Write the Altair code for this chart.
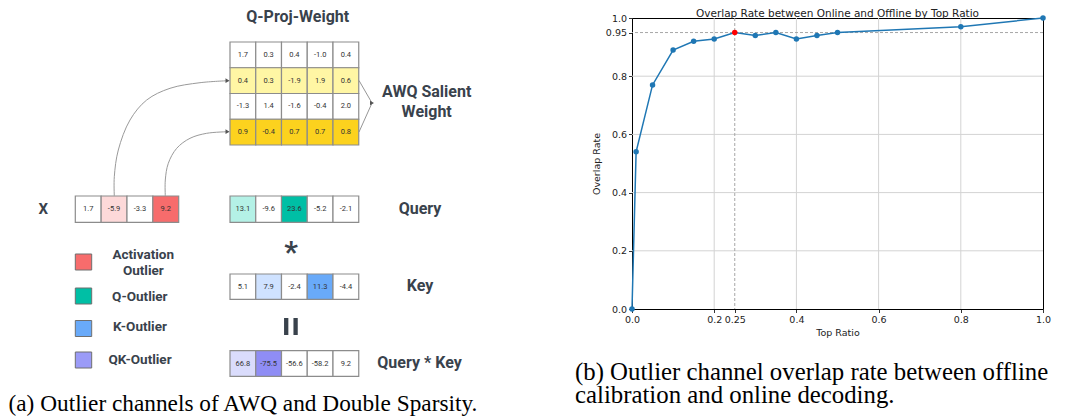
import altair as alt
import pandas as pd

# ---------------- data ----------------
weight_vals = [
    [1.7, 0.3, 0.4, -1.0, 0.4],
    [0.4, 0.3, -1.9, 1.9, 0.6],
    [-1.3, 1.4, -1.6, -0.4, 2.0],
    [0.9, -0.4, 0.7, 0.7, 0.8],
]
weight_row_kind = ["none", "salient_light", "none", "salient"]
x_vals = [1.7, -5.9, -3.3, 9.2]
x_kind = ["none", "act_light", "none", "act"]
query_vals = [13.1, -9.6, 23.6, -5.2, -2.1]
query_kind = ["q_light", "none", "q", "none", "none"]
key_vals = [5.1, 7.9, -2.4, 11.3, -4.4]
key_kind = ["none", "k_light", "none", "k", "none"]
qk_vals = [66.8, -75.5, -56.6, -58.2, 9.2]
qk_kind = ["qk_light", "qk", "none", "none", "none"]

legend_kinds = ["act", "q", "k", "qk_legend"]
legend_labels = ["Activation", "Outlier", "Q-Outlier", "K-Outlier", "QK-Outlier"]
diagram_labels = ["Q-Proj-Weight", "AWQ Salient", "Weight", "X", "Query", "*", "Key", "Query * Key"]
caption_a = "(a) Outlier channels of AWQ and Double Sparsity."
caption_b = ["(b) Outlier channel overlap rate between offline", "calibration and online decoding."]

top_ratio = [0.0, 0.01, 0.05, 0.1, 0.15, 0.2, 0.25, 0.3, 0.35, 0.4, 0.45, 0.5, 0.8, 1.0]
overlap_rate = [0.0, 0.54, 0.77, 0.89, 0.92, 0.928, 0.95, 0.94, 0.95, 0.928, 0.94, 0.95, 0.97, 1.0]
highlight_ratio = 0.25
threshold_rate = 0.95
chart_title = "Overlap Rate between Online and Offline by Top Ratio"
x_ticks = [0.0, 0.2, 0.25, 0.4, 0.6, 0.8, 1.0]
y_ticks = [0.0, 0.2, 0.4, 0.6, 0.8, 0.95, 1.0]
grid_vals = [0.2, 0.4, 0.6, 0.8]

# ---------------- styles / layout ----------------
PALETTE = {
    "none": "#ffffff",
    "salient_light": "#fff6a4",
    "salient": "#fcd21e",
    "act_light": "#fdd9d9",
    "act": "#f76c6c",
    "q_light": "#b4f1e6",
    "q": "#00bfa5",
    "k_light": "#cfe2ff",
    "k": "#69aaf9",
    "qk_light": "#dadcfc",
    "qk": "#8f8df5",
    "qk_legend": "#9b9bf7",
}
INK = "#39424c"
PX0, PY0, W, H = 632, 18, 411, 291
PAD = {"left": PX0 - 8, "top": PY0 - 8, "right": 1059 - PX0 - W, "bottom": 108}

DX = alt.Scale(domain=[0, 1067], range=[-PX0, 1067 - PX0], nice=False, zero=False)
DY = alt.Scale(domain=[0, 419], range=[-PY0, 419 - PY0], nice=False, zero=False)
CX = alt.Scale(domain=[0, 1], nice=False, zero=False)
CY = alt.Scale(domain=[0, 1], nice=False, zero=False)


def dx(f):
    return alt.X(f, type="quantitative", scale=DX, axis=None)


def dy(f):
    return alt.Y(f, type="quantitative", scale=DY, axis=None)


# cells
cell_rows = []


def add_cells(vals, kinds, x0, y0, w, h):
    for i, (v, k) in enumerate(zip(vals, kinds)):
        cell_rows.append(dict(x=x0 + i * w, x2=x0 + (i + 1) * w, y=y0, y2=y0 + h,
                              cx=x0 + (i + 0.5) * w, cy=y0 + h / 2,
                              fill=PALETTE[k], label=f"{v:.1f}"))


CW = 25.75
for r, (vals, kind) in enumerate(zip(weight_vals, weight_row_kind)):
    add_cells(vals, [kind] * len(vals), 230, 42 + r * CW, CW, CW)
add_cells(x_vals, x_kind, 75.3, 196, 25.85, 26.3)
add_cells(query_vals, query_kind, 230, 196, CW, 26.3)
add_cells(key_vals, key_kind, 230, 274, CW, 25.3)
add_cells(qk_vals, qk_kind, 230, 350.7, CW, 25.6)
cells_df = pd.DataFrame(cell_rows)

cell_rect = alt.Chart(cells_df).mark_rect(stroke="#8c8c8c", strokeWidth=1.2).encode(
    x=dx("x"), x2="x2", y=dy("y"), y2="y2", fill=alt.Fill("fill:N", scale=None))
cell_text = alt.Chart(cells_df).mark_text(font="Roboto", fontSize=7.5, color="#333333").encode(
    x=dx("cx"), y=dy("cy"), text="label:N")

# legend squares
leg_y = [262, 296, 328.5, 360]
leg_df = pd.DataFrame(dict(x=[75.3] * 4, x2=[91.7] * 4,
                           y=[c - 8 for c in leg_y], y2=[c + 8 for c in leg_y],
                           fill=[PALETTE[k] for k in legend_kinds]))
leg_rect = alt.Chart(leg_df).mark_rect(stroke="#6f6f6f", strokeWidth=1).encode(
    x=dx("x"), x2="x2", y=dy("y"), y2="y2", fill=alt.Fill("fill:N", scale=None))
leg_pos = [(143.2, 255.3), (143.3, 271), (139.8, 296.7), (140, 326.5), (140, 360)]
leg_text_df = pd.DataFrame(dict(t=legend_labels, x=[p[0] for p in leg_pos], y=[p[1] for p in leg_pos]))
leg_text = alt.Chart(leg_text_df).mark_text(font="Roboto", fontWeight="bold", fontSize=13.5, color=INK).encode(
    x=dx("x"), y=dy("y"), text="t:N")

# diagram labels
lab_pos = [(297.7, 16.5), (426.7, 92), (426.7, 111.7), (43.3, 209), (420, 209), (291, 253), (420, 286), (419.5, 362.7)]
lab_size = [16, 16, 16, 15, 16, 30, 16, 16]
lab_df = pd.DataFrame(dict(t=diagram_labels, x=[p[0] for p in lab_pos], y=[p[1] for p in lab_pos], s=lab_size))
lab_text = alt.Chart(lab_df).mark_text(font="Roboto", fontWeight="bold", color=INK).encode(
    x=dx("x"), y=dy("y"), text="t:N", size=alt.Size("s:Q", scale=None))

# "=" drawn as two thick bars
eq_df = pd.DataFrame(dict(x=[286.2, 295.6], y=[318, 318], y2=[335, 335]))
eq_bars = alt.Chart(eq_df).mark_rule(color=INK, strokeWidth=4.3).encode(
    x=dx("x"), y=dy("y"), y2="y2")

# curved arrows from X to weight rows
curve_pts = {
    "a": [(114.3, 196), (114.3, 176.7), (118.3, 150), (130, 120), (146.7, 100), (170, 88.3), (200, 82.7), (228.3, 80.7)],
    "b": [(165.3, 196), (165.3, 180), (168.3, 163.3), (176.7, 148.3), (190, 138.3), (206.7, 133.3), (228.3, 131.7)],
}
crow = []
for cid, pts in curve_pts.items():
    for i, (px, py) in enumerate(pts):
        crow.append(dict(id=cid, o=i, x=px, y=py))
curve_df = pd.DataFrame(crow)
curves = alt.Chart(curve_df).mark_line(interpolate="catmull-rom", color="#9a9a9a", strokeWidth=1).encode(
    x=dx("x"), y=dy("y"), detail="id:N", order="o:Q")

# AWQ arrows
awq_df = pd.DataFrame(dict(x=[359, 359], y=[80.5, 132], x2=[372, 372], y2=[103, 103]))
awq_lines = alt.Chart(awq_df).mark_rule(color="#8a8a8a", strokeWidth=0.9).encode(
    x=dx("x"), y=dy("y"), x2="x2", y2="y2")
head_df = pd.DataFrame(dict(x=[227.5, 227.5, 372], y=[80.7, 131.7, 103]))
heads = alt.Chart(head_df).mark_point(shape="triangle-right", filled=True, size=22, color="#555555", opacity=1).encode(
    x=dx("x"), y=dy("y"))

# captions
cap_a_df = pd.DataFrame(dict(t=[caption_a], x=[8.5], y=[411]))
cap_a = alt.Chart(cap_a_df).mark_text(font="Liberation Serif", fontSize=23.3, align="left",
                                      baseline="alphabetic", color="#000000").encode(
    x=dx("x"), y=dy("y"), text="t:N")
cap_b_df = pd.DataFrame(dict(t=["\n".join(caption_b)], x=[575], y=[380]))
cap_b = alt.Chart(cap_b_df).mark_text(font="Liberation Serif", fontSize=24.8, align="left",
                                      baseline="alphabetic", lineBreak="\n", lineHeight=23.3,
                                      color="#000000").encode(
    x=dx("x"), y=dy("y"), text="t:N")

# ---------------- line chart ----------------
line_df = pd.DataFrame(dict(r=top_ratio, o=overlap_rate))
line_df["c"] = ["red" if abs(r - highlight_ratio) < 1e-9 else "#1f77b4" for r in top_ratio]

axis_common = dict(grid=False, domain=False, tickColor="#000000", tickSize=3.5, tickWidth=0.8,
                   labelFont="DejaVu Sans", labelFontSize=9.5, labelColor="#222222",
                   titleFont="DejaVu Sans", titleFontSize=9.5, titleFontWeight="normal",
                   titleColor="#222222", labelPadding=2, labelOverlap=False, labelFlush=False)
xaxis = alt.Axis(values=x_ticks, title="Top Ratio", titlePadding=3,
                 labelExpr="datum.value == 0.25 ? '0.25' : format(datum.value, '.1f')", **axis_common)
yaxis = alt.Axis(values=y_ticks, title="Overlap Rate", titlePadding=4,
                 labelExpr="datum.value == 0.95 ? '0.95' : format(datum.value, '.1f')", **axis_common)

gdf = pd.DataFrame(dict(v=grid_vals))
grid_x = alt.Chart(gdf).mark_rule(color="#d3d3d3", strokeWidth=1).encode(
    x=alt.X("v:Q", scale=CX, axis=None))
grid_y = alt.Chart(gdf).mark_rule(color="#d3d3d3", strokeWidth=1).encode(
    y=alt.Y("v:Q", scale=CY, axis=None))
dash_x = alt.Chart(pd.DataFrame(dict(v=[highlight_ratio]))).mark_rule(
    color="#a6a6a6", strokeWidth=1, strokeDash=[3, 2]).encode(x=alt.X("v:Q", scale=CX, axis=None))
dash_y = alt.Chart(pd.DataFrame(dict(v=[threshold_rate]))).mark_rule(
    color="#a6a6a6", strokeWidth=1, strokeDash=[3, 2]).encode(y=alt.Y("v:Q", scale=CY, axis=None))

line = alt.Chart(line_df).mark_line(color="#1f77b4", strokeWidth=1.5).encode(
    x=alt.X("r:Q", scale=CX, axis=xaxis), y=alt.Y("o:Q", scale=CY, axis=yaxis))
pts = alt.Chart(line_df).mark_circle(size=30, opacity=1).encode(
    x=alt.X("r:Q", scale=CX, axis=None), y=alt.Y("o:Q", scale=CY, axis=None),
    color=alt.Color("c:N", scale=None))
title = alt.Chart(pd.DataFrame(dict(t=[chart_title]))).mark_text(
    font="DejaVu Sans", fontSize=10.5, color="#222222", baseline="alphabetic").encode(
    x=alt.value(W / 2), y=alt.value(-1.5), text="t:N")

chart = alt.layer(
    grid_x, grid_y, dash_x, dash_y, line, pts, title,
    cell_rect, cell_text, leg_rect, leg_text, lab_text, eq_bars, curves, awq_lines, heads, cap_a, cap_b,
).resolve_scale(x="independent", y="independent").properties(
    width=W, height=H, padding=PAD, autosize=alt.AutoSizeParams(type="none"),
    background="white",
).configure_view(stroke="#000000", strokeWidth=1)

chart.save("out.html", embed_options={"renderer": "svg", "actions": False})
